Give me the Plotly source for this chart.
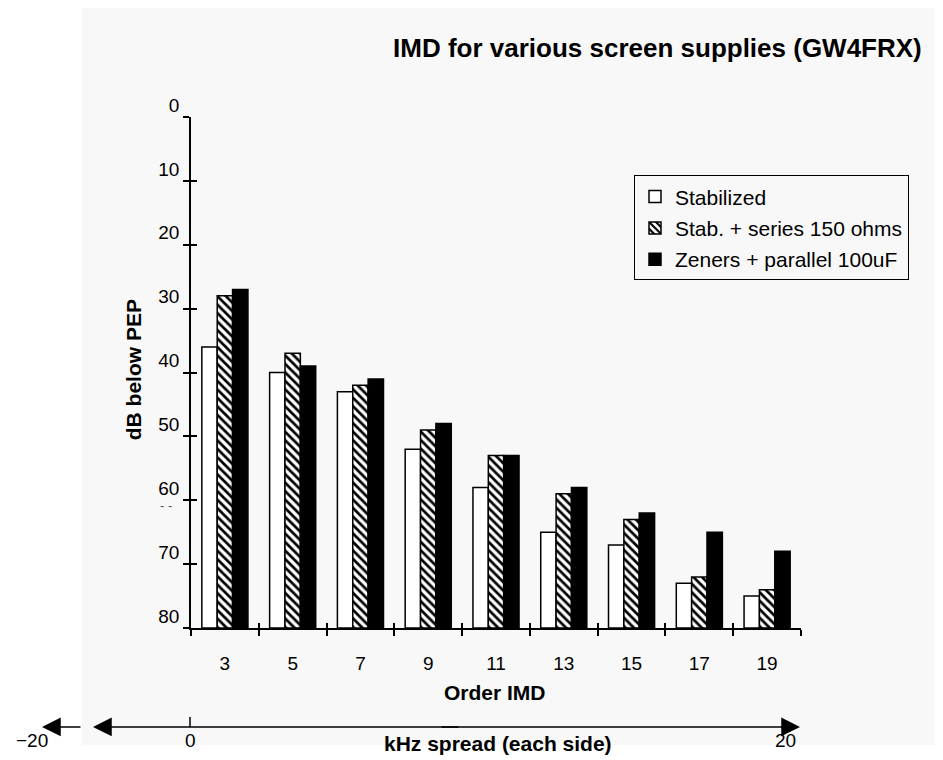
import plotly.graph_objects as go

# ---- data ----
orders = ["3", "5", "7", "9", "11", "13", "15", "17", "19"]
stabilized = [36, 40, 43, 52, 58, 65, 67, 73, 75]
stab_series150 = [28, 37, 42, 49, 53, 59, 63, 72, 74]
zeners_parallel = [27, 39, 41, 48, 53, 58, 62, 65, 68]
series_names = ["Stabilized", "Stab. + series 150 ohms", "Zeners + parallel 100uF"]
y_ticks = [0, 10, 20, 30, 40, 50, 60, 70, 80]
y_floor = 80
title_text = "IMD for various screen supplies (GW4FRX)"

# page body margin offset (browser default)
OFF = 8
W, H = 943, 760
L, R, T, B = 191, 801, 116.5, 628   # plot area in page pixels


def PX(x):
    return (x - L) / (R - L)


def PY(y):
    return (B - y) / (B - T)


FONT = "Liberation Sans, Arial, sans-serif"
BG = "#f8f8f8"

fig = go.Figure()

styles = [
    dict(color="white", pattern=dict(shape="")),
    dict(color="white", pattern=dict(shape="\\", fgcolor="black", bgcolor="white",
                                     size=6, solidity=0.45, fillmode="replace")),
    dict(color="black", pattern=dict(shape="")),
]
for name, vals, st in zip(series_names, [stabilized, stab_series150, zeners_parallel], styles):
    fig.add_trace(go.Bar(
        x=orders,
        y=[v - y_floor for v in vals],
        base=y_floor,
        name=name,
        legendgroup=name,
        marker=dict(color=st["color"], pattern=st["pattern"],
                    line=dict(color="black", width=1.5)),
    ))

# invisible trace for overlay axes (crossing ticks)
fig.add_trace(go.Scatter(x=orders, y=[None] * len(orders), xaxis="x2", yaxis="y2",
                         showlegend=False, hoverinfo="skip"))

fig.update_layout(
    width=W - OFF, height=H - OFF,
    margin=dict(l=L - OFF, r=W - R, t=T - OFF, b=H - B, pad=0),
    paper_bgcolor="white",
    plot_bgcolor=BG,
    barmode="group",
    bargap=0.32,
    bargroupgap=0,
    font=dict(family=FONT, size=19, color="black"),
    showlegend=True,
    legend=dict(
        x=PX(634), y=PY(175), xanchor="left", yanchor="top",
        bgcolor=BG, bordercolor="black", borderwidth=1,
        font=dict(size=21, family=FONT),
        traceorder="grouped", tracegroupgap=1,
        itemwidth=30,
    ),
    xaxis=dict(
        type="category", range=[-0.5, 8.5],
        showline=True, linecolor="black", linewidth=1.5,
        ticks="outside", ticklen=6, tickwidth=1.5, tickcolor="black",
        tickson="boundaries", showgrid=False, zeroline=False,
        ticklabelstandoff=17,
        tickfont=dict(size=19),
    ),
    xaxis2=dict(
        type="category", range=[-0.5, 8.5], overlaying="x",
        showline=False, ticks="inside", ticklen=5, tickwidth=1.5, tickcolor="black",
        tickson="boundaries", showgrid=False, zeroline=False, showticklabels=False,
        anchor="y",
    ),
    yaxis=dict(
        range=[80, 0],
        showline=True, linecolor="black", linewidth=1.5,
        ticks="outside", ticklen=6, tickwidth=1.5, tickcolor="black",
        tickvals=y_ticks, ticktext=[str(v) for v in y_ticks],
        showgrid=False, zeroline=False,
        ticklabelshift=12,
        tickfont=dict(size=19),
    ),
    yaxis2=dict(
        range=[80, 0], overlaying="y",
        ticks="inside", ticklen=6, tickwidth=1.5, tickcolor="black",
        tickvals=y_ticks, showticklabels=False,
        showgrid=False, zeroline=False, showline=False,
        anchor="x",
    ),
)

shapes = [
    # gray panel
    dict(type="rect", xref="paper", yref="paper", layer="below",
         x0=PX(82), x1=PX(943), y0=PY(745), y1=PY(4),
         fillcolor=BG, line=dict(width=0)),
    # tick at 0 on the kHz line
    dict(type="line", xref="paper", yref="paper",
         x0=PX(190), x1=PX(190), y0=PY(717), y1=PY(727),
         line=dict(color="black", width=1.5)),
]
fig.update_layout(shapes=shapes)

ann = []
# title
ann.append(dict(text="<b>" + title_text + "</b>", xref="paper", yref="paper",
                x=PX(657), y=PY(47), showarrow=False, xanchor="center", yanchor="middle",
                font=dict(size=26, family=FONT)))
# y title
ann.append(dict(text="<b>dB below PEP</b>", xref="paper", yref="paper",
                x=PX(133), y=PY(370), showarrow=False, textangle=-90,
                xanchor="center", yanchor="middle", font=dict(size=21, family=FONT)))
# x title
ann.append(dict(text="<b>Order IMD</b>", xref="paper", yref="paper",
                x=PX(495), y=PY(693), showarrow=False,
                xanchor="center", yanchor="middle", font=dict(size=21, family=FONT)))
# kHz spread label
ann.append(dict(text="<b>kHz spread (each side)</b>", xref="paper", yref="paper",
                x=PX(498), y=PY(744), showarrow=False,
                xanchor="center", yanchor="middle", font=dict(size=21, family=FONT)))
# -20, 0, 20 labels
for t, xx in [("\u221220", 32), ("0", 190), ("20", 785)]:
    ann.append(dict(text=t, xref="paper", yref="paper", x=PX(xx), y=PY(741),
                    showarrow=False, xanchor="center", yanchor="middle",
                    font=dict(size=19, family=FONT)))
# faint dashes near the 60 tick
ann.append(dict(text="- -", xref="paper", yref="paper", x=PX(166), y=PY(505),
                showarrow=False, xanchor="center", yanchor="middle",
                font=dict(size=13, family=FONT, color="#555")))
# arrows of kHz line
for tip, tail in [(93, 460), (800, 440), (42, 82)]:
    ann.append(dict(text="", xref="paper", yref="paper", x=PX(tip), y=PY(727),
                    ax=tail - tip, ay=0, showarrow=True, arrowhead=2, arrowsize=2.5,
                    arrowwidth=1.5, arrowcolor="black", standoff=0))
fig.update_layout(annotations=ann)

fig.write_html("out.html")
